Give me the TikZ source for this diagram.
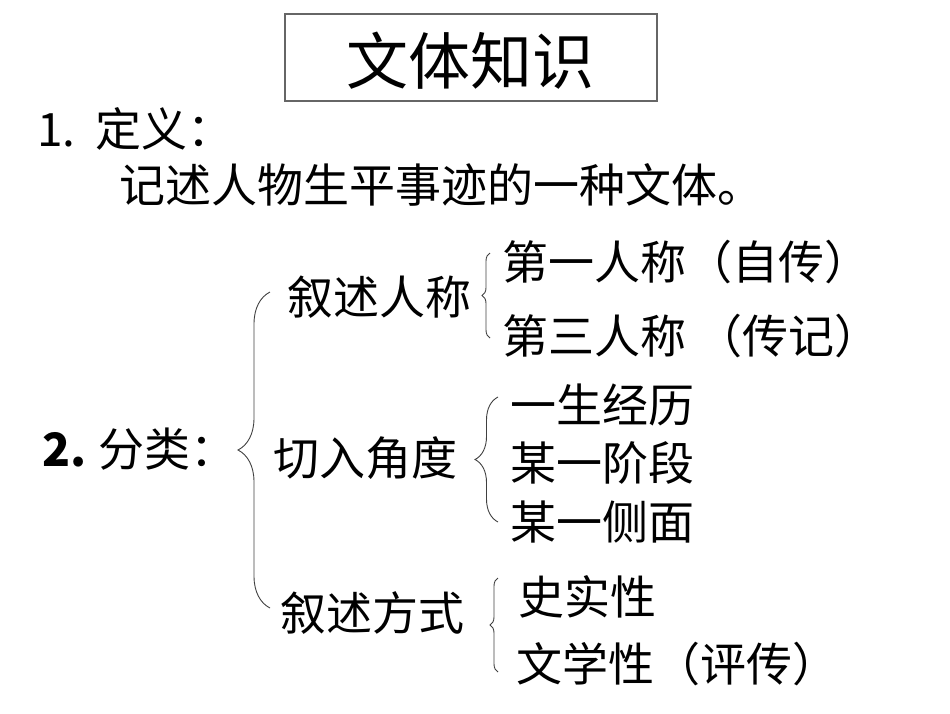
\documentclass[tikz,border=0pt]{standalone}
\usepackage{fontspec}
\setmainfont{Noto Sans CJK SC}
\usepackage{tikz}
\usetikzlibrary{decorations.pathreplacing}

\begin{document}
\begin{tikzpicture}[x=1pt,y=-1pt,
		txt/.style={anchor=west, inner sep=0pt, font=\fontsize{46pt}{50pt}\selectfont, text height=39pt, text depth=11pt},
		bigtxt/.style={inner sep=0pt, font=\fontsize{62pt}{66pt}\selectfont},
		brc/.style={draw=black!75, line width=0.9pt, decorate, decoration={brace, amplitude=#1}}]
		\useasboundingbox (0,0) rectangle (950,713);
		%\fill[white] (0,0) rectangle (950,713);
		\node[draw=black!60, line width=1.2pt, minimum width=372pt, minimum height=87pt, inner sep=0pt] (box) at (471,57.5) {};
		\node[bigtxt] (title) at (470,61) {文体知识};
		
		\node[txt] (n1) at (37,132) {1.};
		\node[txt] (def) at (95,132) {定义：};
		\node[txt] (defx) at (119,188) {记述人物生平事迹的一种文体。};
		\node[txt] (n2) at (42,452) {\bfseries 2.};
		\node[txt] (cls) at (98,452) {分类：};
		
		\node[txt] (a) at (287,300) {叙述人称};
		\node[txt] (b) at (273,461) {切入角度};
		\node[txt] (c) at (280,616) {叙述方式};
		
		\node[txt] (a1) at (502,265) {第一人称（自传）};
		\node[txt] (a2) at (502,339) {第三人称 （传记）};
		\node[txt] (b1) at (510,408) {一生经历};
		\node[txt] (b2) at (510,466) {某一阶段};
		\node[txt] (b3) at (510,525) {某一侧面};
		\node[txt] (c1) at (518,600) {史实性};
		\node[txt] (c2) at (516,667) {文学性（评传）};
		
		% brace ends
		\coordinate (kt) at (270,292);
		\coordinate (kb) at (270,608);
		\coordinate (at) at (490,253);
		\coordinate (ab) at (490,338);
		\coordinate (bt) at (498,397);
		\coordinate (bb) at (498,522);
		\coordinate (ct) at (498,578);
		\coordinate (cb) at (498,672);
		\draw[brc=32pt] (kb) -- (kt);
		\draw[brc=8pt] (ab) -- (at);
		\draw[brc=23pt] (bb) -- (bt);
		\draw[brc=8pt] (cb) -- (ct);
\end{tikzpicture}
\end{document}
